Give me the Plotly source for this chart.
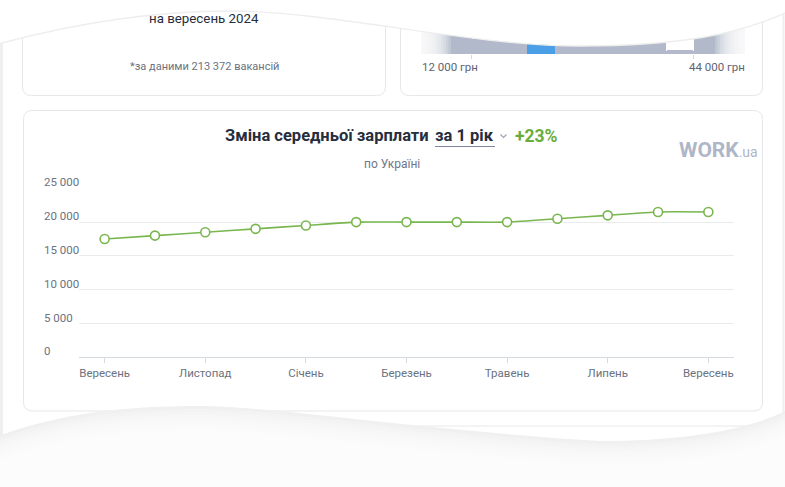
import re
import plotly.graph_objects as go

W, H = 785, 487

# ---------------- data ----------------
months = ["Вересень", "Жовтень", "Листопад", "Грудень", "Січень", "Лютий", "Березень",
          "Квітень", "Травень", "Червень", "Липень", "Серпень", "Вересень"]
salary = [17500, 18000, 18500, 19000, 19500, 20000, 20000, 20000, 20000, 20500, 21000, 21500, 21500]
y_ticks = [0, 5000, 10000, 15000, 20000, 25000]
y_tick_labels = ["0", "5 000", "10 000", "15 000", "20 000", "25 000"]

hist_edges = [4700, 12000, 16000, 20000, 24000, 28000, 32000, 36000, 40000, 44000, 51400]
hist_heights = [24, 16, 14, 11, 10, 10, 11, 14, 4, 26]
hist_highlight = 3
hist_tick_vals = [12000, 44000]
hist_labels = ["12 000 грн", "44 000 грн"]

title_main = "Зміна середньої зарплати"
title_period = "за 1 рік"
title_change = "+23%"
subtitle = "по Україні"
card1_title = "на вересень 2024"
card1_note = "*за даними 213 372 вакансій"
logo_main = "WORK"
logo_sub = ".ua"

# ---------------- helpers ----------------
FONT = "Roboto, 'Liberation Sans', sans-serif"
GREEN = "#79b64f"
DARK = "#262d3d"
GRAY = "#6b7280"


def px(x):
    return x / W


def py(y):
    return 1 - y / H


def P(s):
    return re.sub(r"(-?[\d.]+),(-?[\d.]+)",
                  lambda m: f"{px(float(m.group(1))):.5f},{py(float(m.group(2))):.5f}", s)


def rrect(x0, y0, x1, y1, r):
    return P(f"M {x0+r},{y0} L {x1-r},{y0} Q {x1},{y0} {x1},{y0+r} L {x1},{y1-r} "
             f"Q {x1},{y1} {x1-r},{y1} L {x0+r},{y1} Q {x0},{y1} {x0},{y1-r} "
             f"L {x0},{y0+r} Q {x0},{y0} {x0+r},{y0} Z")


shapes = []
annotations = []

# page frame strips
shapes.append(dict(type="line", xref="paper", yref="paper", x0=px(1.5), x1=px(1.5), y0=py(42), y1=py(437),
                   line=dict(color="#efefef", width=3), layer="below"))
shapes.append(dict(type="line", xref="paper", yref="paper", x0=px(783.5), x1=px(783.5), y0=py(12), y1=py(412),
                   line=dict(color="#efefef", width=2), layer="below"))

# cards
for (x0, y0, x1, y1) in [(22.5, -20, 385.5, 95.5), (400.5, -20, 762.5, 95.5), (23.5, 110.5, 762.5, 411)]:
    shapes.append(dict(type="path", xref="paper", yref="paper", path=rrect(x0, y0, x1, y1, 9),
                       fillcolor="white", line=dict(color="#e6e7ea", width=1), layer="below"))
# partially hidden card below
shapes.append(dict(type="line", xref="paper", yref="paper", x0=px(300), x1=px(762), y0=py(426), y1=py(426),
                   line=dict(color="#e8e8e8", width=1), layer="below"))

# ---------------- traces ----------------
fig = go.Figure()

fig.add_trace(go.Scatter(
    x=list(range(len(salary))), y=salary, mode="lines+markers",
    line=dict(color=GREEN, width=1.6, shape="spline", smoothing=0.5),
    marker=dict(size=9, color="white", line=dict(color=GREEN, width=1.6)),
    hoverinfo="skip", showlegend=False, xaxis="x", yaxis="y"))

gap = 2.0 / ((hist_edges[-1] - hist_edges[0]) / (745 - 421))  # px gap -> value units
centers = [(a + b) / 2 for a, b in zip(hist_edges[:-1], hist_edges[1:])]
widths = [(b - a) - gap for a, b in zip(hist_edges[:-1], hist_edges[1:])]
colors = ["#4a9fe6" if i == hist_highlight else "#b1b9ca" for i in range(len(hist_heights))]
fig.add_trace(go.Bar(
    x=centers, y=hist_heights, width=widths, marker=dict(color=colors, cornerradius=3, line=dict(width=0)),
    hoverinfo="skip", showlegend=False, xaxis="x2", yaxis="y2"))

# fades at the ends of the histogram
N = 12
for i in range(N):
    shapes.append(dict(type="rect", xref="paper", yref="paper", x0=px(419), x1=px(421 + 30 * (i + 1) / N),
                       y0=py(58), y1=py(20), fillcolor="white", opacity=0.2, line=dict(width=0), layer="above"))
    shapes.append(dict(type="rect", xref="paper", yref="paper", x0=px(745 - 30 * (i + 1) / N), x1=px(747),
                       y0=py(58), y1=py(20), fillcolor="white", opacity=0.2, line=dict(width=0), layer="above"))

# top wave
top_curve = "M -2,44 C 80,22 160,11 230,11 C 330,11 470,46 580,46 C 680,46 740,34 787,12"
shapes.append(dict(type="path", xref="paper", yref="paper",
                   path=P(top_curve + " L 787,-2 L -2,-2 Z"), fillcolor="white", line=dict(width=0), layer="above"))
shapes.append(dict(type="path", xref="paper", yref="paper", path=P(top_curve),
                   line=dict(color="#eeeeee", width=1.3), layer="above"))

# bottom wave with soft shadow
def bottom_wave(d):
    return P(f"M -2,{436+d} C 60,{414+d} 120,{406+d} 200,{406+d} C 270,{406+d} 420,{430+d} 600,{441+d} "
             f"C 680,{441+d} 750,{430+d} 787,{410+d} L 787,490 L -2,490 Z")


shapes.append(dict(type="path", xref="paper", yref="paper", path=bottom_wave(0),
                   fillcolor="#f0f0f0", line=dict(width=0), layer="above"))
for k in range(1, 14):
    shapes.append(dict(type="path", xref="paper", yref="paper", path=bottom_wave(k * 3),
                       fillcolor="white", opacity=0.22, line=dict(width=0), layer="above"))

# title decorations
shapes.append(dict(type="line", xref="paper", yref="paper", x0=px(435), x1=px(495), y0=py(146.5), y1=py(146.5),
                   line=dict(color="#7d869a", width=1), layer="above"))
shapes.append(dict(type="path", xref="paper", yref="paper", path=P("M 500.5,134.5 L 503.5,137.5 L 506.5,134.5"),
                   line=dict(color="#9aa1b0", width=1.1), layer="above"))

# ---------------- annotations ----------------
def ann(text, x, y, size, color, xanchor="center", yanchor="middle", bold=False, **kw):
    annotations.append(dict(text=f"<b>{text}</b>" if bold else text, xref="paper", yref="paper",
                            x=px(x), y=py(y), xanchor=xanchor, yanchor=yanchor, showarrow=False,
                            font=dict(family=FONT, size=size, color=color), **kw))


ann(card1_title, 204, 19, 13.3, DARK)
ann(card1_note, 204, 66, 11, GRAY)
ann(hist_labels[0], 420, 67, 11.5, "#5d6472", xanchor="left")
ann(hist_labels[1], 747, 67, 11.5, "#5d6472", xanchor="right")

ann(title_main, 431, 136, 16.5, DARK, xanchor="right", bold=True)
ann(title_period, 433, 136, 16.5, DARK, xanchor="left", bold=True)
ann(title_change, 513, 136, 17.5, "#6aad3d", xanchor="left", bold=True)
ann(subtitle, 392, 164, 12, "#70778a")
annotations.append(dict(text=f"<b>{logo_main}</b><span style='font-size:14px'>{logo_sub}</span>",
                        xref="paper", yref="paper", x=px(677), y=py(150), xanchor="left", yanchor="middle",
                        showarrow=False, font=dict(family=FONT, size=21, color="#aeb6c7")))

for v, t in zip(y_ticks, y_tick_labels):
    annotations.append(dict(text=t, xref="paper", yref="y", x=px(42), y=v, xanchor="left", yanchor="middle",
                            yshift=6, showarrow=False, font=dict(family=FONT, size=11.5, color=GRAY)))

# ---------------- layout ----------------
fig.update_layout(
    width=W, height=H, margin=dict(l=0, r=0, t=0, b=0),
    paper_bgcolor="white", plot_bgcolor="rgba(0,0,0,0)",
    font=dict(family=FONT),
    showlegend=False,
    xaxis=dict(domain=[px(79), px(734)], range=[-0.51, 12.51],
               tickvals=list(range(0, len(months), 2)), ticktext=months[::2],
               showgrid=False, zeroline=False, showline=True, linecolor="#d5d9e0", linewidth=1,
               ticks="outside", ticklen=5, tickcolor="#d5d9e0",
               tickfont=dict(family=FONT, size=11.5, color=GRAY), fixedrange=True),
    yaxis=dict(domain=[py(357.3), py(188.3)], range=[0, 25000], tickvals=y_ticks,
               showticklabels=False, showgrid=True, gridcolor="#e9ebef", gridwidth=1,
               zeroline=False, showline=False, ticks="", fixedrange=True),
    xaxis2=dict(domain=[px(421), px(745)], range=[hist_edges[0], hist_edges[-1]], anchor="y2",
                tickvals=hist_tick_vals, showticklabels=False, ticks="outside", ticklen=4,
                tickcolor="#d3d8e0", showgrid=False, zeroline=False, showline=False, fixedrange=True),
    yaxis2=dict(domain=[py(54), py(24)], range=[0, 30], anchor="x2", visible=False, fixedrange=True),
    bargap=0,
    shapes=shapes,
    annotations=annotations,
)

fig.write_html("out.html")
